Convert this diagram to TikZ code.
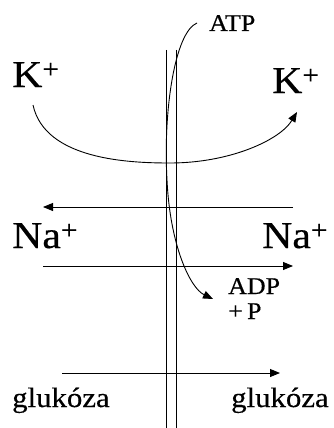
\documentclass[tikz,border=0pt]{standalone}
\usepackage{fontspec}
\setmainfont[FakeBold=0.4,AutoFakeBold=0.4]{Liberation Serif}
\usetikzlibrary{arrows.meta}
\newcommand{\ionf}[1]{\scalebox{1.1}[1]{\fontsize{38}{38}\selectfont\bfseries #1}}
\newcommand{\smf}[1]{\scalebox{1.08}[1]{\fontsize{24}{24}\selectfont\bfseries #1}}
\newcommand{\glf}[1]{\scalebox{1.1}[1]{\fontsize{28}{28}\selectfont\bfseries #1}}
\begin{document}
\begin{tikzpicture}[x=1pt,y=-1pt,
  lbl/.style={inner sep=0pt,anchor=base west},
  ln/.style={line width=0.9pt},
  arr/.style={ln,-{Triangle[length=10pt,width=8pt]}}]
\useasboundingbox (0,0) rectangle (333,428);
% membrane
\coordinate (m1t) at (166.5,50); \coordinate (m1b) at (166.5,428);
\coordinate (m2t) at (176.5,50); \coordinate (m2b) at (176.5,428);
\draw[ln] (m1t) -- (m1b);
\draw[ln] (m2t) -- (m2b);
% labels
\node[lbl] (kl) at (12,87) {\ionf{K\textsuperscript{+}}};
\node[lbl] (kr) at (272,93) {\ionf{K\textsuperscript{+}}};
\node[lbl] (nal) at (12,248) {\ionf{Na\textsuperscript{+}}};
\node[lbl] (nar) at (262,248) {\ionf{Na\textsuperscript{+}}};
\node[lbl] (atp) at (209,31) {\smf{ATP}};
\node[lbl] (adp) at (228,294) {\smf{ADP}};
\node[lbl] (p) at (228,319) {\smf{+\,P}};
\node[lbl] (gll) at (12,407) {\glf{glukóza}};
\node[lbl] (glr) at (231,407) {\glf{glukóza}};
% K+ curve
\coordinate (ks) at (33,105); \coordinate (ke) at (297,112);
\draw[arr] (ks) .. controls (45,160) and (130,163) .. (170,163)
  .. controls (230,163) and (280,140) .. (ke);
% ATP curve
\coordinate (as) at (197,23); \coordinate (ae) at (213,299);
\draw[arr] (as) .. controls (175,32) and (163,110) .. (167,180)
  .. controls (170,245) and (190,288) .. (ae);
% Na arrows
\coordinate (na1s) at (293,207); \coordinate (na1e) at (43,207);
\draw[arr] (na1s) -- (na1e);
\coordinate (na2s) at (43,266); \coordinate (na2e) at (293,266);
\draw[arr] (na2s) -- (na2e);
% glucose arrow
\coordinate (g1) at (62,373); \coordinate (g2) at (280,373);
\draw[arr] (g1) -- (g2);
\end{tikzpicture}
\end{document}
